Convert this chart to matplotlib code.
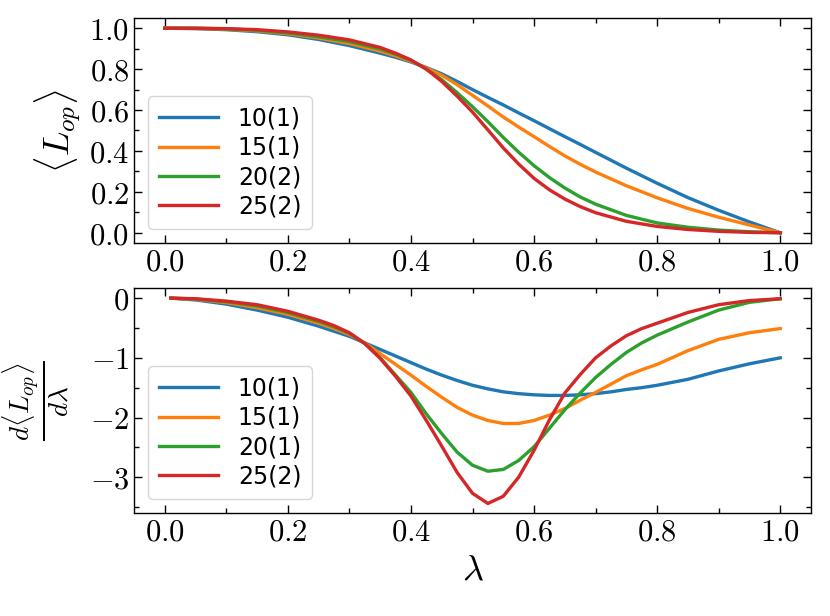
import matplotlib
matplotlib.use("Agg")
import matplotlib.pyplot as plt
from matplotlib.ticker import AutoMinorLocator, FuncFormatter, MultipleLocator

plt.rcParams['mathtext.fontset'] = 'cm'
plt.rcParams['font.family'] = ['DejaVu Sans']

# ---------------- data ----------------
lam_top = [0.0, 0.05, 0.1, 0.15, 0.2, 0.25, 0.3, 0.35, 0.375, 0.4, 0.425, 0.45, 0.475,
           0.5, 0.525, 0.55, 0.575, 0.6, 0.625, 0.65, 0.675, 0.7, 0.75, 0.8, 0.85,
           0.9, 0.95, 1.0]
L10 = [1.0, 0.998, 0.993, 0.983, 0.968, 0.945, 0.915, 0.878, 0.858, 0.835, 0.808, 0.777,
       0.74, 0.70, 0.662, 0.625, 0.586, 0.548, 0.509, 0.47, 0.432, 0.393, 0.316, 0.242,
       0.172, 0.11, 0.053, 0.0]
L15 = [1.0, 0.999, 0.995, 0.987, 0.973, 0.952, 0.925, 0.888, 0.865, 0.838, 0.806, 0.77,
       0.724, 0.672, 0.62, 0.566, 0.517, 0.47, 0.422, 0.376, 0.335, 0.297, 0.23, 0.171,
       0.119, 0.076, 0.038, 0.0]
L20 = [1.0, 1.0, 0.997, 0.99, 0.977, 0.958, 0.935, 0.898, 0.873, 0.843, 0.80, 0.748,
       0.685, 0.616, 0.543, 0.466, 0.394, 0.328, 0.27, 0.219, 0.175, 0.14, 0.085, 0.048,
       0.027, 0.013, 0.005, 0.0]
L25 = [1.0, 1.0, 0.998, 0.993, 0.982, 0.966, 0.943, 0.906, 0.878, 0.845, 0.80, 0.74,
       0.668, 0.59, 0.503, 0.415, 0.336, 0.266, 0.21, 0.165, 0.128, 0.098, 0.056, 0.031,
       0.016, 0.007, 0.002, 0.0]
labels_top = ["10(1)", "15(1)", "20(2)", "25(2)"]

lam_bot = [0.01, 0.05, 0.1, 0.15, 0.2, 0.25, 0.275, 0.3, 0.325, 0.35, 0.375, 0.4, 0.425,
           0.45, 0.475, 0.5, 0.525, 0.55, 0.575, 0.6, 0.625, 0.65, 0.675, 0.7, 0.725,
           0.75, 0.775, 0.8, 0.85, 0.9, 0.95, 1.0]
D10 = [0.0, -0.03, -0.1, -0.2, -0.32, -0.47, -0.555, -0.64, -0.75, -0.86, -0.97, -1.08,
       -1.19, -1.29, -1.38, -1.46, -1.52, -1.57, -1.6, -1.62, -1.63, -1.63, -1.62, -1.6,
       -1.57, -1.53, -1.5, -1.46, -1.36, -1.22, -1.1, -1.0]
D15 = [0.0, -0.02, -0.075, -0.16, -0.27, -0.42, -0.51, -0.61, -0.75, -0.93, -1.11, -1.29,
       -1.48, -1.66, -1.83, -1.96, -2.05, -2.1, -2.1, -2.05, -1.96, -1.85, -1.71, -1.58,
       -1.44, -1.3, -1.2, -1.11, -0.88, -0.69, -0.58, -0.51]
D20 = [0.0, -0.015, -0.06, -0.13, -0.24, -0.39, -0.48, -0.59, -0.76, -1.0, -1.29, -1.58,
       -1.94, -2.27, -2.58, -2.8, -2.9, -2.87, -2.72, -2.49, -2.18, -1.87, -1.59, -1.33,
       -1.11, -0.91, -0.75, -0.62, -0.4, -0.2, -0.07, -0.01]
D25 = [0.0, -0.01, -0.05, -0.11, -0.22, -0.37, -0.46, -0.58, -0.76, -1.01, -1.31, -1.64,
       -2.05, -2.48, -2.92, -3.27, -3.44, -3.32, -3.0, -2.55, -2.04, -1.59, -1.28, -1.0,
       -0.8, -0.63, -0.51, -0.42, -0.24, -0.11, -0.04, -0.01]
labels_bot = ["10(1)", "15(1)", "20(1)", "25(2)"]

colors = ["#1f77b4", "#ff7f0e", "#2ca02c", "#d62728"]

# ---------------- figure ----------------
fig = plt.figure(figsize=(8.3, 6.16), dpi=100)
ax1 = fig.add_axes([134/830, 1-243/616, 677/830, 225/616])
ax2 = fig.add_axes([134/830, 1-513/616, 677/830, 225/616])

for y, c, lab in zip([L10, L15, L20, L25], colors, labels_top):
    ax1.plot(lam_top, y, color=c, lw=2.4, label=lab)
for y, c, lab in zip([D10, D15, D20, D25], colors, labels_bot):
    ax2.plot(lam_bot, y, color=c, lw=2.4, label=lab)

fmt1 = FuncFormatter(lambda v, p: r"$%.1f$" % v)
fmt0 = FuncFormatter(lambda v, p: r"$%d$" % round(v))

for ax in (ax1, ax2):
    ax.set_xlim(-0.05, 1.05)
    ax.xaxis.set_major_locator(MultipleLocator(0.2))
    ax.xaxis.set_minor_locator(AutoMinorLocator(2))
    ax.yaxis.set_minor_locator(AutoMinorLocator(2))
    ax.xaxis.set_major_formatter(fmt1)
    ax.tick_params(which='both', direction='in', top=True, right=True, labelsize=22)
    ax.tick_params(which='major', length=6, width=1.0)
    ax.tick_params(which='minor', length=3.5, width=1.0)
    for s in ax.spines.values():
        s.set_linewidth(1.0)
    ax.legend(loc='lower left', fontsize=17, handlelength=2.5, handletextpad=0.85,
              borderaxespad=0.6, labelspacing=0.22, borderpad=0.45)

ax1.set_ylim(-0.05, 1.05)
ax1.yaxis.set_major_locator(MultipleLocator(0.2))
ax1.yaxis.set_major_formatter(fmt1)
ax2.set_ylim(-3.6, 0.17)
ax2.yaxis.set_major_locator(MultipleLocator(1))
ax2.yaxis.set_major_formatter(fmt0)

ax1.set_ylabel(r"$\langle L_{op} \rangle$", fontsize=26)
ax2.set_ylabel(r"$\frac{d\langle L_{op}\rangle}{d\lambda}$", fontsize=28, labelpad=12)
ax2.set_xlabel(r"$\lambda$", fontsize=26)

fig.savefig("out.png", dpi=100)
